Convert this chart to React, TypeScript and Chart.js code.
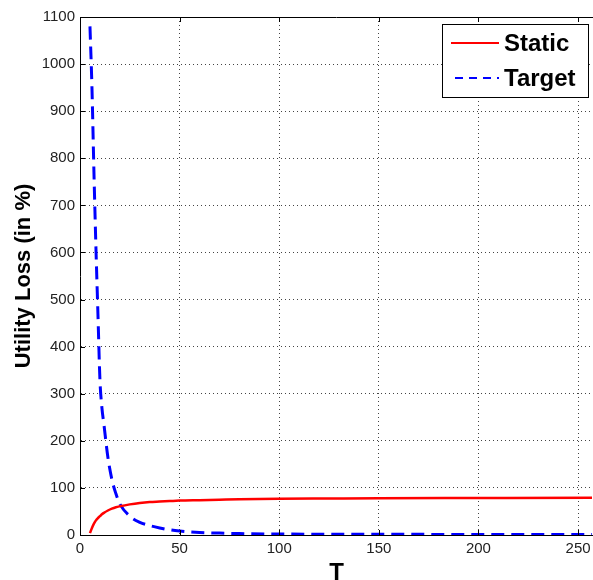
import React, { useEffect, useRef } from "react";
import { Chart, registerables } from "chart.js";

Chart.register(...registerables);

const tValues = [5, 6, 7, 8, 9, 10, 11, 12, 14, 16, 18, 20, 25, 30, 35, 40, 45, 50, 60, 70, 80, 100, 125, 150, 200, 257];
const staticLoss = [4, 15, 24, 31, 36, 40, 44, 47, 52, 56, 59, 61, 65, 68, 70, 71, 72, 73, 74, 75, 76, 77, 77.5, 78, 78.5, 79];
const targetLoss = [1080, 950, 770, 610, 470, 330, 270, 235, 165, 118, 88, 66, 40, 27, 20, 15, 11, 8.5, 5.5, 4, 3, 2, 1.8, 1.5, 1.2, 1];
const xTicks = [0, 50, 100, 150, 200, 250];
const yTicks = [0, 100, 200, 300, 400, 500, 600, 700, 800, 900, 1000, 1100];
const seriesNames = ["Static", "Target"];
const xTitle = "T";
const yTitle = "Utility Loss (in %)";

const frameAndLegend = {
  id: "frameAndLegend",
  afterDraw(chart: any) {
    const { ctx, chartArea } = chart;
    const { left, right, top, bottom } = chartArea;
    const xs = chart.scales.x;
    const ys = chart.scales.y;
    ctx.save();
    ctx.strokeStyle = "#000";
    ctx.lineWidth = 1;
    ctx.setLineDash([]);
    ctx.beginPath();
    ctx.moveTo(left, top + 0.5);
    ctx.lineTo(right, top + 0.5);
    ctx.stroke();
    const tl = 5;
    ctx.beginPath();
    xs.ticks.forEach((t: any) => {
      const px = Math.round(xs.getPixelForValue(t.value)) + 0.5;
      ctx.moveTo(px, bottom);
      ctx.lineTo(px, bottom - tl);
      ctx.moveTo(px, top);
      ctx.lineTo(px, top + tl);
    });
    ys.ticks.forEach((t: any) => {
      const py = Math.round(ys.getPixelForValue(t.value)) + 0.5;
      ctx.moveTo(left, py);
      ctx.lineTo(left + tl, py);
    });
    ctx.stroke();

    const bx = 442, by = 24, bw = 146, bh = 73;
    ctx.fillStyle = "#fff";
    ctx.fillRect(bx, by, bw, bh);
    ctx.strokeStyle = "#000";
    ctx.lineWidth = 1;
    ctx.strokeRect(bx + 0.5, by + 0.5, bw, bh);
    const datasets = chart.data.datasets;
    const rows = [43, 78];
    datasets.forEach((ds: any, i: number) => {
      const y = rows[i];
      ctx.strokeStyle = ds.borderColor;
      ctx.lineWidth = 2;
      ctx.setLineDash(i === 1 ? [8, 6] : []);
      ctx.beginPath();
      ctx.moveTo(i === 1 ? 455 : 451, y);
      ctx.lineTo(499, y);
      ctx.stroke();
      ctx.setLineDash([]);
      ctx.fillStyle = "#000";
      ctx.font = "bold 24px Arial, 'Liberation Sans', sans-serif";
      ctx.textBaseline = "middle";
      ctx.textAlign = "left";
      ctx.fillText(ds.label, 504, y + 1);
    });
    ctx.restore();
  },
};

export default function App() {
  const canvasRef = useRef<HTMLCanvasElement | null>(null);

  useEffect(() => {
    document.body.style.margin = "0";
    const canvas = canvasRef.current;
    if (!canvas) return;
    const chart = new Chart(canvas, {
      type: "line",
      data: {
        datasets: [
          {
            label: seriesNames[0],
            data: tValues.map((t, i) => ({ x: t, y: staticLoss[i] })),
            borderColor: "#ff0000",
            borderWidth: 2.5,
            pointRadius: 0,
            fill: false,
            cubicInterpolationMode: "monotone",
          },
          {
            label: seriesNames[1],
            data: tValues.map((t, i) => ({ x: t, y: targetLoss[i] })),
            borderColor: "#0000ff",
            borderWidth: 3,
            borderDash: [13, 7],
            pointRadius: 0,
            fill: false,
            cubicInterpolationMode: "monotone",
          },
        ],
      },
      options: {
        animation: false,
        responsive: false,
        maintainAspectRatio: false,
        layout: { padding: { top: 17, left: 0, right: 0, bottom: 0 } },
        plugins: {
          legend: { display: false },
          tooltip: { enabled: false },
        },
        scales: {
          x: {
            type: "linear",
            min: 0,
            max: 257.5,
            afterBuildTicks: (scale: any) => {
              scale.ticks = xTicks.map((v) => ({ value: v }));
            },
            afterFit: (scale: any) => {
              scale.height = 45;
              scale.paddingLeft = 0;
              scale.paddingRight = 0;
            },
            ticks: {
              includeBounds: false,
              maxRotation: 0,
              autoSkip: false,
              padding: 5,
              color: "#222",
              font: { family: "Arial, 'Liberation Sans', sans-serif", size: 15 },
              callback: (v: any) => String(v),
            },
            grid: {
              color: "#444",
              lineWidth: 1,
              drawTicks: false,
            },
            border: { display: true, color: "#000", width: 1, dash: [1, 3] },
            title: {
              display: true,
              text: xTitle,
              color: "#000",
              font: { family: "Arial, 'Liberation Sans', sans-serif", size: 24, weight: "bold", lineHeight: 0.2 },
              padding: { top: 0, bottom: 4 },
            },
          },
          y: {
            type: "linear",
            min: 0,
            max: 1100,
            afterBuildTicks: (scale: any) => {
              scale.ticks = yTicks.map((v) => ({ value: v }));
            },
            afterFit: (scale: any) => {
              scale.width = 80;
              scale.paddingTop = 0;
              scale.paddingBottom = 0;
            },
            ticks: {
              includeBounds: false,
              autoSkip: false,
              padding: 5,
              color: "#222",
              font: { family: "Arial, 'Liberation Sans', sans-serif", size: 15 },
              callback: (v: any) => String(v),
            },
            grid: {
              color: "#444",
              lineWidth: 1,
              drawTicks: false,
            },
            border: { display: true, color: "#000", width: 1, dash: [1, 3] },
            title: {
              display: true,
              text: yTitle,
              color: "#000",
              font: { family: "Arial, 'Liberation Sans', sans-serif", size: 22, weight: "bold", lineHeight: 1.2 },
              padding: { top: 11, bottom: 0 },
            },
          },
        },
      },
      plugins: [frameAndLegend],
    } as any);
    return () => chart.destroy();
  }, []);

  return (
    <div style={{ position: "absolute", left: 0, top: 0, width: 593, height: 580 }}>
      <canvas ref={canvasRef} width={593} height={580} style={{ display: "block" }} />
    </div>
  );
}
